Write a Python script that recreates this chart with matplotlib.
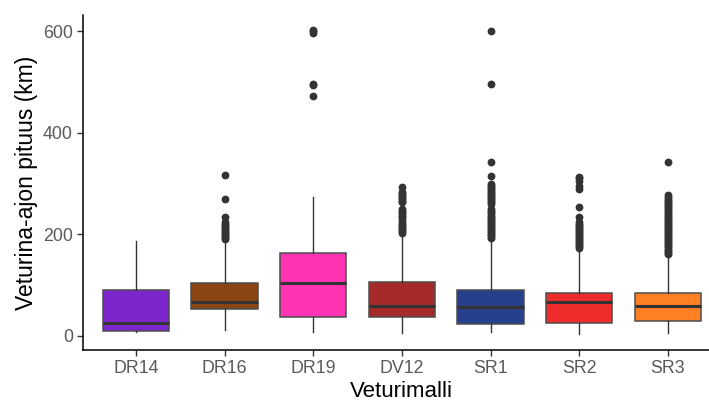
import matplotlib
matplotlib.use("Agg")
import matplotlib.pyplot as plt

plt.rcParams['font.family'] = ['Liberation Sans', 'DejaVu Sans']

# --- data ---
models = ['DR14', 'DR16', 'DR19', 'DV12', 'SR1', 'SR2', 'SR3']
colors = ['#7D26CD', '#8B4513', '#FF34B3', '#A52A2A', '#27408B', '#EE2C2C', '#FF7F24']

whislo = [8, 12, 8, 5, 7, 3, 6]
q1 = [9, 52, 37, 37, 23, 26, 30]
med = [26, 67, 105, 58, 56, 66, 58]
q3 = [90, 105, 164, 106, 91, 84, 84]
whishi = [186, 188, 273, 201, 190, 171, 158]

fliers_dr14 = []
fliers_dr16 = [190, 193, 196, 199, 202, 205, 208, 211, 214, 217, 220, 224, 234, 270, 316]
fliers_dr19 = [473, 494, 497, 597, 600, 603]
fliers_dv12 = [203, 206, 209, 212, 215, 218, 221, 224, 231, 234, 237, 240, 243, 246, 249,
               263, 266, 269, 272, 275, 278, 281, 284, 294]
fliers_sr1 = [192, 195, 198, 201, 204, 207, 210, 213, 216, 219, 222, 225, 228, 231, 234,
              237, 240, 243, 246, 250, 260, 263, 266, 269, 272, 275, 278, 281, 284, 287,
              290, 293, 296, 300, 314, 343, 496, 600]
fliers_sr2 = [173, 176, 179, 182, 185, 188, 191, 194, 197, 200, 203, 206, 209, 212, 215,
              218, 221, 224, 234, 253, 290, 296, 306, 310, 313]
fliers_sr3 = [161, 164, 167, 170, 173, 176, 179, 182, 185, 188, 191, 194, 197, 200, 203,
              206, 209, 212, 215, 218, 221, 224, 227, 230, 233, 236, 239, 242, 245, 248,
              251, 254, 257, 260, 263, 266, 270, 274, 278, 342]
fliers = [fliers_dr14, fliers_dr16, fliers_dr19, fliers_dv12, fliers_sr1, fliers_sr2, fliers_sr3]

stats = []
for i, m in enumerate(models):
    stats.append({'label': m, 'whislo': whislo[i], 'q1': q1[i], 'med': med[i],
                  'q3': q3[i], 'whishi': whishi[i], 'fliers': fliers[i]})

fig = plt.figure(figsize=(7.09, 4.05), dpi=100)
ax = fig.add_axes([0.1166, 0.1358, 0.9005, 0.827])

edge = '#333333'
bp = ax.bxp(stats, positions=range(1, 8), widths=0.75, patch_artist=True,
            showcaps=False,
            boxprops=dict(edgecolor='#4d4d4d', linewidth=1.1),
            whiskerprops=dict(color=edge, linewidth=1.0),
            medianprops=dict(color=edge, linewidth=2.2),
            flierprops=dict(marker='o', markerfacecolor=edge, markeredgecolor=edge,
                            markersize=4.6, linestyle='none'))
for patch, c in zip(bp['boxes'], colors):
    patch.set_facecolor(c)

ax.set_xlim(0.4, 7.6)
ax.set_ylim(-28, 632)
ax.set_yticks([0, 200, 400, 600])

for s in ['top', 'right']:
    ax.spines[s].set_visible(False)
for s in ['left', 'bottom']:
    ax.spines[s].set_color('black')
    ax.spines[s].set_linewidth(1.1)

ax.tick_params(axis='both', colors='#333333', length=4, width=1.0,
               labelsize=12.8, labelcolor='#5a5a5a', pad=3)

ax.set_xlabel('Veturimalli', fontsize=16, color='black', labelpad=3)
ax.set_ylabel('Veturina-ajon pituus (km)', fontsize=16.5, color='black', labelpad=4)

fig.savefig('out.png', dpi=100)
